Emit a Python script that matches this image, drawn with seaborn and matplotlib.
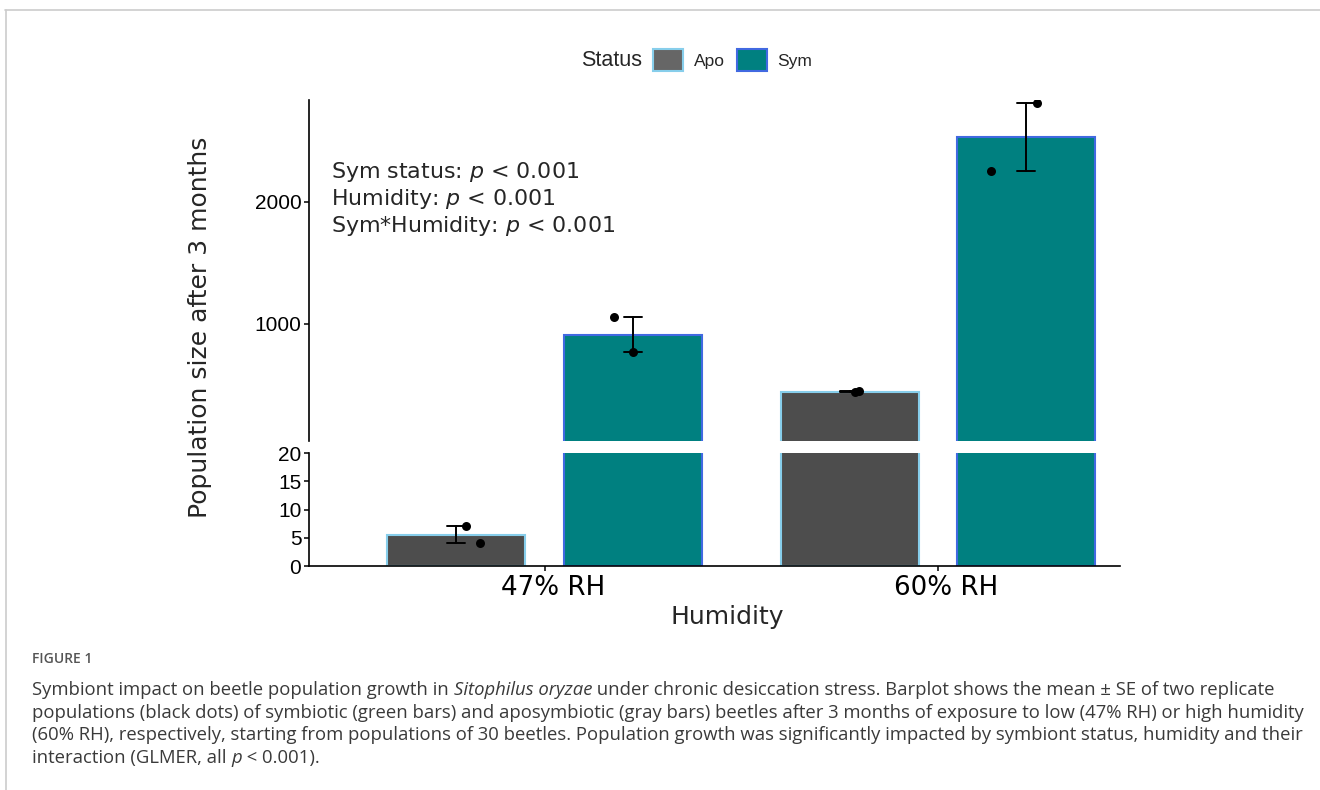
import numpy as np
import pandas as pd
import seaborn as sns
import matplotlib.pyplot as plt
import matplotlib.transforms as mtransforms
from matplotlib.patches import Patch
from matplotlib.lines import Line2D

# data: two replicate populations per group (beetle counts after 3 months)
humidity = ["47% RH", "60% RH"]
status = ["Apo", "Sym"]
apo_counts = [[7, 4], [443, 447]]
sym_counts = [[1057, 770], [2250, 2815]]

upper_ticks = [1000, 2000]
lower_ticks = [0, 5, 10, 15, 20]

rows = []
for st, counts in zip(status, [apo_counts, sym_counts]):
    for h, reps in zip(humidity, counts):
        for v in reps:
            rows.append((st, h, v))
df = pd.DataFrame(rows, columns=["Status", "Humidity", "Pop"])

fill = {"Apo": "#4d4d4d", "Sym": "#008080"}
edge = {"Apo": "#87ceeb", "Sym": "#4169e1"}
# horizontal jitter of the replicate dots, as fraction of bar width
jitter = {"Apo": [[0.07, 0.17], [0.04, 0.07]],
          "Sym": [[-0.14, 0.0], [-0.26, 0.08]]}

sns.set_style("ticks")
plt.rcParams["font.family"] = ["DejaVu Sans"]
plt.rcParams["mathtext.fontset"] = "dejavusans"

W, H = 1320, 790
fig = plt.figure(figsize=(13.2, 7.9), dpi=100)
ax_top = fig.add_axes([309 / W, 1 - 441 / H, 811 / W, 341 / H])
ax_bot = fig.add_axes([309 / W, 1 - 566 / H, 811 / W, 113 / H])
ax_top.set_ylim(41, 2836)
ax_bot.set_ylim(0, 20)

for ax in (ax_top, ax_bot):
    lo, hi = ax.get_ylim()
    sns.barplot(data=df, x="Humidity", y="Pop", hue="Status",
                order=humidity, hue_order=status, palette=fill, saturation=1,
                errorbar="se", capsize=0.092,
                err_kws={"color": "black", "linewidth": 1.4},
                width=0.9, gap=0.22, linewidth=1.5, legend=False, ax=ax)
    for st, cont in zip(status, ax.containers):
        counts = apo_counts if st == "Apo" else sym_counts
        for i, bar in enumerate(cont):
            bar.set_edgecolor(edge[st])
            cx = bar.get_x() + bar.get_width() / 2
            pts = [(cx + j * bar.get_width(), v)
                   for j, v in zip(jitter[st][i], counts[i]) if lo <= v <= hi]
            if pts:
                xs, ys = zip(*pts)
                ax.scatter(xs, ys, s=42, color="black", zorder=5,
                           linewidths=0)
    ax.set_ylim(lo, hi)
    ax.set_xlim(-0.6, 1.463)
    ax.set_xlabel("")
    ax.set_ylabel("")
    ax.spines[["top", "right"]].set_visible(False)
    for sp in ax.spines.values():
        sp.set_linewidth(1.2)
        sp.set_color("black")
    ax.tick_params(axis="y", length=3.5, width=1.1, pad=2, colors="black")

ax_top.set_yticks(upper_ticks)
ax_top.set_yticklabels([str(t) for t in upper_ticks], family="Liberation Sans",
                       fontsize=15)
ax_top.spines["bottom"].set_visible(False)
ax_top.tick_params(axis="x", bottom=False, labelbottom=False)

ax_bot.set_yticks(lower_ticks)
ax_bot.set_yticklabels([str(t) for t in lower_ticks], family="Liberation Sans",
                       fontsize=15)
ax_bot.tick_params(axis="x", length=3.5, width=1.1, pad=3, labelsize=18.8,
                   colors="black")
shift = mtransforms.ScaledTranslation(8 / 100, 0, fig.dpi_scale_trans)
for lab in ax_bot.get_xticklabels():
    lab.set_transform(lab.get_transform() + shift)

fig.text(727 / W, 1 - 617 / H, "Humidity", fontsize=18, ha="center",
         va="center")
fig.text(200 / W, 1 - 327 / H, "Population size after 3 months", fontsize=18,
         rotation=90, ha="center", va="center")

notes = ["Sym status: $p$ < 0.001", "Humidity: $p$ < 0.001",
         "Sym*Humidity: $p$ < 0.001"]
for k, note in enumerate(notes):
    fig.text(331 / W, 1 - (172 + 27 * k) / H, note, fontsize=15.9,
             ha="left", va="center")

# legend
fig.text(581 / W, 1 - 60 / H, "Status", family="Liberation Sans",
         fontsize=15.5, ha="left", va="center")
handles = [Patch(facecolor="#666666", edgecolor=edge["Apo"], linewidth=1.5),
           Patch(facecolor=fill["Sym"], edgecolor=edge["Sym"], linewidth=1.5)]
fig.legend(handles, status, ncol=2, frameon=False, loc="center left",
           bbox_to_anchor=(653 / W, 1 - 60 / H), borderpad=0, borderaxespad=0,
           handlelength=1.72, handleheight=1.6, handletextpad=0.63,
           columnspacing=0.69, prop={"family": "Liberation Sans", "size": 12.5})

# frame lines of the page
fig.add_artist(Line2D([5 / W, 1], [1 - 10 / H, 1 - 10 / H], color="#cccccc",
                      lw=1.2, transform=fig.transFigure))
fig.add_artist(Line2D([6 / W, 6 / W], [0, 1 - 10 / H], color="#cccccc",
                      lw=1.2, transform=fig.transFigure))

# caption
cap_kw = {"family": "Open Sans", "fontsize": 13.3, "color": "#3a3a3a"}
fig.text(32 / W, 1 - 659 / H, "FIGURE 1", family="Open Sans", fontsize=10,
         color="#555555", weight="semibold", va="center")
caption = [
    [("Symbiont impact on beetle population growth in ", "normal"),
     ("Sitophilus oryzae", "italic"),
     (" under chronic desiccation stress. Barplot shows the mean \u00b1 SE "
      "of two replicate", "normal")],
    [("populations (black dots) of symbiotic (green bars) and aposymbiotic "
      "(gray bars) beetles after 3 months of exposure to low (47% RH) or high "
      "humidity", "normal")],
    [("(60% RH), respectively, starting from populations of 30 beetles. "
      "Population growth was significantly impacted by symbiont status, "
      "humidity and their", "normal")],
    [("interaction (GLMER, all ", "normal"), ("p", "italic"),
     (" < 0.001).", "normal")],
]
for k, parts in enumerate(caption):
    y = 1 - (690 + 22.7 * k) / H
    t = fig.text(32 / W, y, parts[0][0], style=parts[0][1], va="center",
                 **cap_kw)
    for txt, st in parts[1:]:
        t = ax_bot.annotate(txt, xy=(1, 0), xycoords=t, ha="left",
                            va="bottom", style=st, annotation_clip=False,
                            **cap_kw)

fig.savefig("out.png", dpi=100)
